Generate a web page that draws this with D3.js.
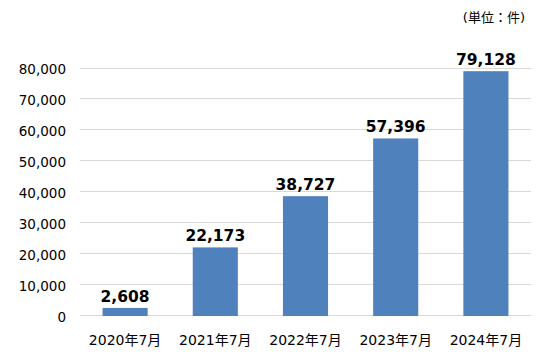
<!DOCTYPE html>
<html><head><meta charset="utf-8">
<script src="https://cdn.jsdelivr.net/npm/d3@7"></script>
<style>body{margin:0;background:#fff}svg{display:block}text{font-family:"DejaVu Sans","Noto Sans CJK JP",sans-serif}</style>
</head><body><svg id="c" width="560" height="361"></svg>
<script>
const categories = ["2020年7月","2021年7月","2022年7月","2023年7月","2024年7月"];
const values = [2608, 22173, 38727, 57396, 79128];
const yTicks = [0,10000,20000,30000,40000,50000,60000,70000,80000];
const unitLabel = "(単位：件)";

const FF = "'DejaVu Sans','Noto Sans CJK JP',sans-serif";
const svg = d3.select("#c");
const x = d3.scaleBand().domain(categories).range([80, 531]).paddingInner(0.5).paddingOuter(0.25);
const y = d3.scaleLinear().domain([0, 80000]).range([316, 68.5]);
const fmt = d3.format(",");

svg.append("g").selectAll("line").data(yTicks).join("line")
  .attr("x1", 80).attr("x2", 531)
  .attr("y1", d => Math.round(y(d)) - 0.5).attr("y2", d => Math.round(y(d)) - 0.5)
  .attr("stroke", "#d9d9d9").attr("stroke-width", 1);

const yAxis = svg.append("g").attr("transform", "translate(66,0)")
  .call(d3.axisLeft(y).tickValues(yTicks).tickFormat(fmt).tickSize(0).tickPadding(0));
yAxis.select(".domain").remove();
yAxis.selectAll("text").attr("font-size", 13.5).attr("fill", "#000").attr("dy", "0.4em").style("font-family", FF);

svg.append("g").selectAll("rect").data(values).join("rect")
  .attr("x", (d,i) => x(categories[i])).attr("width", x.bandwidth())
  .attr("y", d => y(d)).attr("height", d => y(0) - y(d))
  .attr("fill", "#4f81bd");

svg.append("g").selectAll("text").data(values).join("text")
  .attr("x", (d,i) => x(categories[i]) + x.bandwidth()/2)
  .attr("y", d => y(d) - 6)
  .attr("text-anchor", "middle").attr("font-size", 15.5).attr("font-weight", "bold")
  .attr("fill", "#000").text(d => fmt(d));

const xAxis = svg.append("g").attr("transform", "translate(0,335)")
  .call(d3.axisBottom(x).tickSize(0).tickPadding(0));
xAxis.select(".domain").remove();
xAxis.selectAll("text").attr("font-size", 14).attr("fill", "#000").attr("dy", "0.71em").style("font-family", FF);

svg.append("text").attr("x", 525).attr("y", 22).attr("text-anchor", "end")
  .attr("font-size", 13).attr("fill", "#000").text(unitLabel);
</script></body></html>
